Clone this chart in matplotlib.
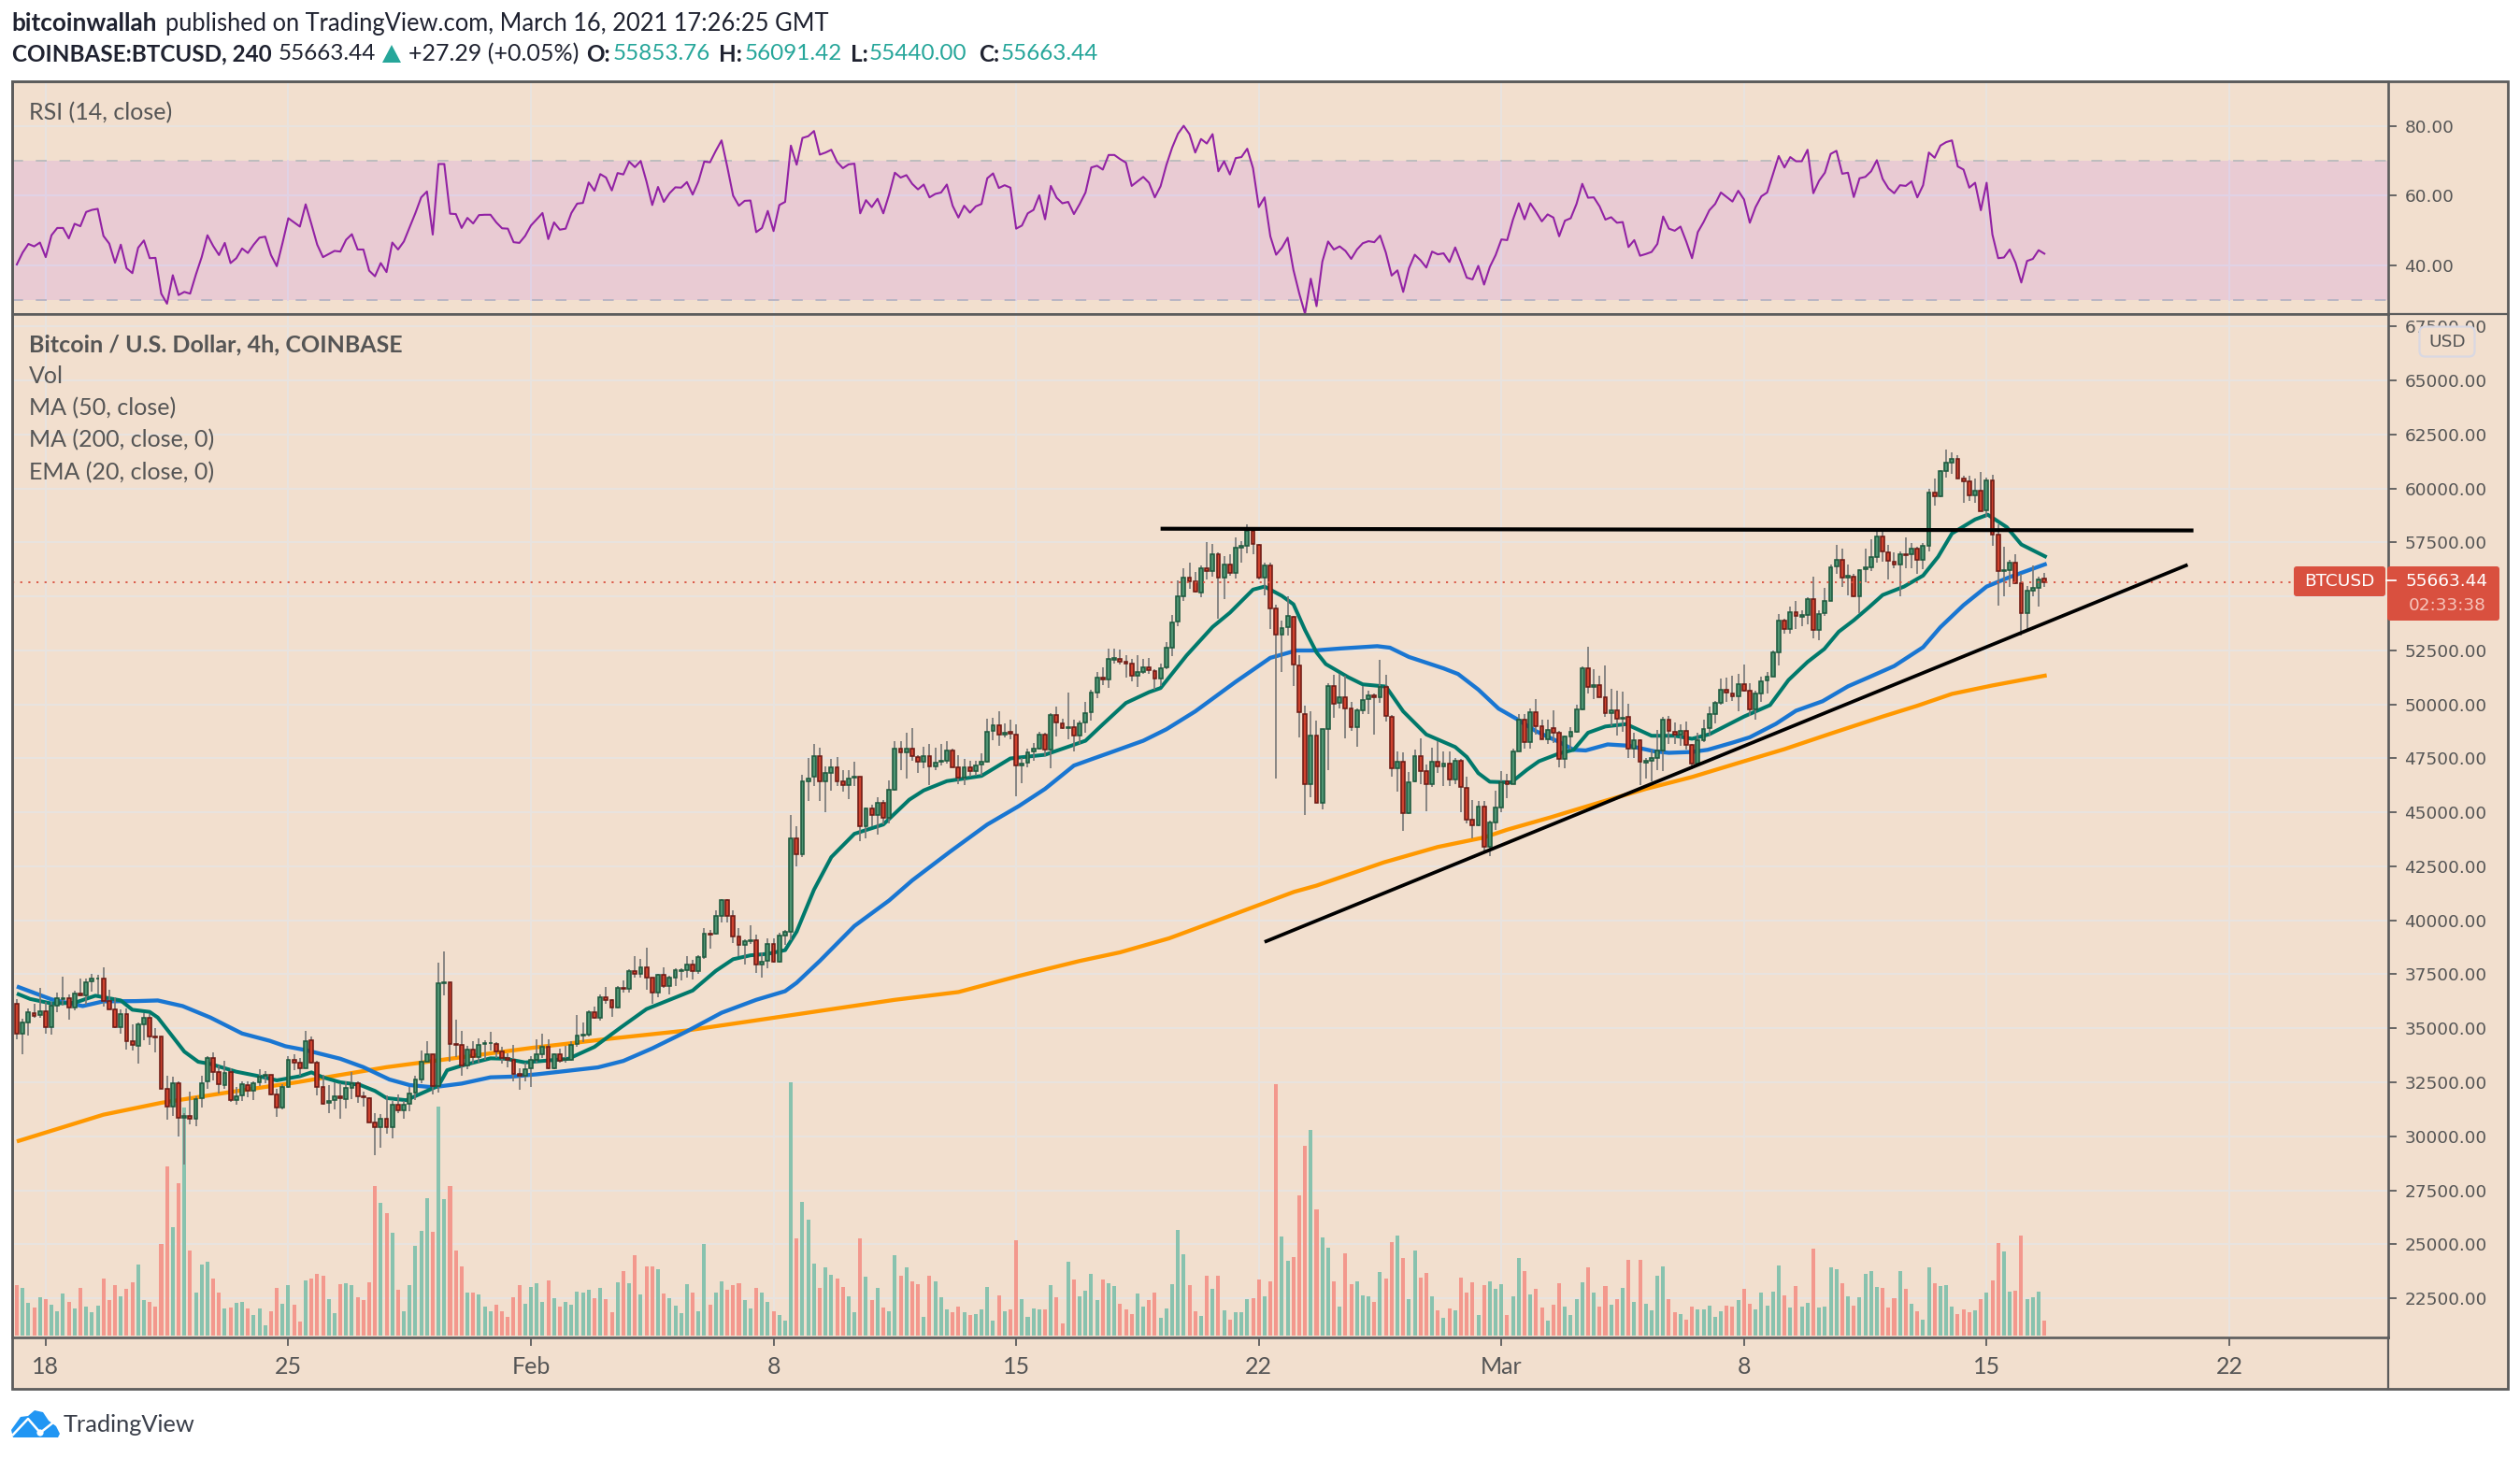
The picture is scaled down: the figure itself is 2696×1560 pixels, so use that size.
import matplotlib
matplotlib.use("Agg")
import matplotlib.pyplot as plt
from matplotlib.patches import Polygon, FancyBboxPatch, Circle, Rectangle

# ---------- data ----------
opens = [
36120,34770,35290,35700,35620,35790,35070,36060,36370,36390,
35980,36620,36510,37180,37290,37300,36260,35890,35060,35660,
34400,34170,35190,35490,34600,34600,32180,31360,32470,30850,
30960,30800,31770,32530,33630,32960,32380,32960,31670,31900,
32380,32110,32510,32790,32840,31950,31340,32270,33530,33390,
33170,34450,33390,32270,31530,31670,31840,31740,32220,32470,
31840,31780,30660,30430,30830,30430,31480,31190,31490,32010,
32640,33460,33810,32310,37100,37140,34280,34220,33270,34020,
33660,34280,34310,34280,33950,33610,33560,32900,32810,33130,
33560,33810,34150,33130,33810,33530,33550,34270,34680,34710,
35760,35500,36440,36290,35980,36870,36840,37640,37530,37840,
37330,36640,37470,36970,37360,37660,37700,37950,37660,38290,
39400,39400,40200,40920,40190,39250,38880,39050,39090,37970,
38120,38890,38100,39310,39480,43790,43070,46420,46640,47590,
46440,46840,47110,46460,46280,46620,46640,44370,45200,44860,
45430,44750,46060,47960,47790,47960,47570,47360,47610,47130,
47340,47390,47870,47070,46610,47100,46920,47210,47360,48760,
49040,48620,48720,48620,47170,47300,47820,47960,48610,47930,
49510,49140,48910,48970,48560,49170,49640,50550,51230,51150,
52080,52130,51980,51900,51310,51520,51720,51550,51190,51700,
52640,53850,55030,55890,55690,55200,56290,56190,56980,55890,
56470,56090,57260,57340,58020,57410,55890,56420,54450,53250,
53590,54070,51810,49570,46310,48580,45450,48880,50860,50060,
50340,49830,48970,49710,50230,50440,50320,50830,49440,47040,
47330,44970,46440,47590,46900,46310,47360,47140,47270,46520,
47410,46120,44650,44420,45290,43430,44520,45240,46420,46320,
47830,49300,48260,49630,48980,48400,48890,48690,47490,48520,
48720,49770,51670,50800,50890,50340,49610,49730,49320,49410,
47970,48330,47320,47400,47500,47860,49300,48720,48610,48760,
48120,47280,48330,48910,49570,50060,50660,50530,50390,50960,
50620,49770,50520,51110,51300,52400,53870,53510,54260,54070,
54130,54880,53440,54220,54810,56400,56720,55870,55940,55000,
56260,56370,56820,57800,57050,56620,56470,56970,56970,57200,
56690,57340,59800,59650,60810,61180,61360,60460,60320,59680,
59910,59000,60380,57860,56190,56230,56590,55610,54220,55260,
55380,55853.76]
closes = [
34770,35260,35730,35570,35790,35070,36030,36380,36400,35980,
36610,36510,37150,37310,37310,36260,35890,35060,35660,34420,
34210,35190,35490,34600,34580,32180,31360,32470,30850,30950,
30800,31740,32470,33630,32960,32410,32930,31670,31870,32400,
32110,32470,32760,32840,31950,31340,32270,33530,33400,33170,
34400,33390,32270,31520,31640,31840,31770,32220,32470,31840,
31800,30660,30430,30830,30430,31480,31190,31440,31980,32640,
33460,33810,32310,37080,37140,34280,34250,33270,34020,33650,
34220,34310,34330,33950,33610,33560,32900,32810,33120,33560,
33810,34150,33130,33810,33500,33590,34240,34670,34710,35760,
35500,36440,36290,35980,36870,36840,37630,37530,37840,37360,
36640,37470,36970,37330,37690,37690,37950,37660,38290,39370,
39350,40190,40920,40200,39250,38850,39020,39090,37970,38100,
38890,38100,39310,39470,43790,43070,46420,46590,47590,46440,
46810,47110,46460,46280,46590,46650,44370,45200,44860,45430,
44750,46030,47960,47790,47960,47600,47360,47610,47130,47310,
47370,47870,47100,46610,47100,46920,47180,47330,48750,49040,
48610,48710,48630,47170,47270,47790,47960,48610,47900,49510,
49170,48910,48970,48560,49140,49610,50550,51250,51150,52100,
52140,51980,51900,51310,51510,51720,51580,51190,51680,52630,
53820,55000,55890,55720,55230,56290,56180,56980,55890,56470,
56090,57240,57340,58020,57440,55890,56440,54450,53250,53560,
54100,51840,49630,46310,48580,45450,48880,50860,50040,50340,
49830,48970,49710,50220,50430,50320,50830,49450,47040,47330,
44970,46410,47590,46920,46310,47360,47140,47260,46520,47410,
46180,44680,44420,45290,43430,44520,45240,46390,46320,47830,
49300,48260,49630,48980,48400,48840,48690,47490,48520,48720,
49770,51670,50800,50890,50340,49600,49730,49340,49380,47970,
48330,47330,47400,47500,47860,49300,48760,48610,48760,48120,
47280,48330,48880,49540,50060,50660,50550,50390,50960,50630,
49770,50490,51090,51300,52400,53870,53510,54260,54090,54130,
54880,53440,54190,54810,56370,56720,55870,55960,55000,56240,
56370,56810,57800,57100,56650,56470,56940,56920,57200,56690,
57330,59800,59640,60810,61180,61360,60460,60320,59680,59910,
58960,60380,57860,56190,56230,56590,55610,54220,55260,55380,
55810,55663.44]
highs = [
36365,35430,35930,36150,36870,36220,36220,36640,37410,36580,
36750,37300,37300,37530,37470,37840,36800,36440,35860,35930,
35170,35290,35690,35650,35000,34640,32820,32740,32560,31050,
32050,31870,32820,33710,33880,33270,33480,33130,32300,32530,
32530,32530,33100,33020,32840,32200,32410,33710,33780,33630,
34860,34600,33490,32840,32350,32480,32440,32560,32960,32560,
32050,31810,31050,31020,31910,31620,31950,31620,32270,32800,
33990,34420,33810,38060,38560,37140,35390,34900,34170,34420,
34540,34450,34830,34340,34140,33850,34210,33130,33420,33730,
34470,34740,34470,33850,34040,34170,34400,35630,35260,35830,
36000,36580,36900,36360,36970,37230,37730,38350,38230,38740,
37370,37510,37840,37440,37800,37800,38350,38160,38380,39640,
39550,40460,41000,41000,40460,39640,39140,39770,39340,38500,
39160,39160,39410,39550,44900,44340,46740,47530,48170,47990,
47140,47490,47560,46950,46950,47360,46640,45230,45340,45690,
45590,46490,48320,48290,48680,48890,47670,48030,48180,47990,
48180,48320,47960,47640,47460,47380,47380,47740,49320,49370,
49680,49110,49280,49080,47530,47960,48200,48750,48700,49610,
49900,49320,50550,49280,49250,50140,50700,51500,51700,52590,
52590,52530,52300,52130,52270,52130,52170,51620,51910,52870,
54140,55750,56320,56580,56150,56440,57520,57440,57040,56870,
56940,57730,57560,58350,58200,57440,56580,56580,54600,53880,
55030,54110,52270,49940,49680,49250,48880,50980,51370,51410,
51340,50110,49800,50860,50620,50520,52080,51370,49510,47810,
47760,46880,47890,48430,47240,47990,48320,47810,47810,47500,
47460,46670,45590,45530,45530,44600,45990,46900,46780,47970,
49550,49550,49810,50240,49310,49310,49730,48760,48550,48950,
49990,51780,52670,51640,51320,51800,50730,50630,50590,50040,
48690,48380,47510,47890,48840,49410,49450,49150,49090,49200,
48150,48690,49300,49910,50160,51210,51240,51340,51420,51850,
50990,50630,51280,51490,52500,54190,53990,54520,54810,54360,
54960,55900,54380,55390,56470,57400,57230,56470,56040,56270,
57200,57630,58140,58090,57380,57050,57080,57750,57460,57310,
57490,59990,60450,60840,61820,61680,61560,60590,60590,60450,
60780,60520,60620,58350,57310,56690,56950,56040,55490,56430,
55900,56091.42]
lows = [
34500,33810,34680,35500,35500,34740,34710,35750,36030,35400,
35830,36470,36090,36720,36580,36010,35890,35000,34740,34000,
33960,33380,34450,34210,33880,32180,30790,30950,30000,28700,
30540,30460,31340,32200,32590,31980,32200,31580,31440,31620,
31810,31670,32340,32440,31900,30900,31260,32240,33060,32820,
33130,33350,31910,31480,31090,31260,30830,31290,31700,31550,
31380,30620,29140,29470,30140,29900,31090,30830,31160,31670,
32460,33460,31950,32020,36510,33460,33660,32810,33100,33350,
33420,33560,33990,33630,33370,33200,32560,32170,32530,32300,
33420,33630,33100,33100,33420,33420,33490,34140,34350,34640,
35430,35360,36150,35520,35930,36650,36650,37340,37330,36800,
36150,36440,36870,36580,36980,37230,37370,37250,37510,38230,
38710,39340,39910,39910,38950,38330,37950,38900,37570,37350,
37760,38050,38050,38880,39080,42500,42930,45520,46240,45540,
45000,46020,46230,45950,45630,46230,43650,43820,44340,43960,
44440,44510,46000,46950,46590,47410,46810,47050,46260,46950,
47170,47270,47100,46290,46260,46660,46690,46690,47310,48360,
48100,48460,48390,45730,46340,47100,47410,47890,47600,47030,
48530,48850,48390,47820,48170,48710,49250,50300,50900,50750,
51910,51870,51260,51050,50830,51410,51410,50690,50860,51620,
52240,53640,54790,55360,55170,54960,55790,55930,53970,54900,
55980,55820,56580,57010,56940,55790,55070,53490,46590,51510,
53200,50860,48480,44870,45690,45450,45160,46980,49400,49800,
48450,48790,48060,49540,49540,48610,50090,49220,46670,45950,
44140,44910,46380,46310,45040,46160,46810,46240,46240,46310,
45010,44510,43790,44350,43160,42970,44170,45010,45650,46320,
47830,47970,47970,48620,48380,48190,48230,47110,47040,47900,
48690,49730,50490,50270,50340,49410,48980,48550,48720,47540,
47510,46250,46590,46420,46970,46900,48190,48150,48090,47900,
47000,47140,48260,48580,49120,49990,50130,50160,49670,50590,
49480,49300,50130,50520,51280,51820,53270,53270,53510,53630,
53730,53080,52980,54080,54800,56040,55460,55070,54960,54230,
55680,56180,56590,56620,55810,56330,55030,56330,56300,56040,
56260,57080,59190,59620,60520,60690,60460,59360,59440,59360,
58960,58670,57340,54570,54990,55460,55580,53180,53510,55030,
54550,55440.00]
volume = [
54,51,35,30,41,39,33,26,45,36,
29,51,31,25,32,61,38,54,42,50,
57,76,38,36,31,98,181,116,163,244,
91,46,76,79,61,46,29,30,35,36,
29,22,29,11,26,51,34,54,33,15,
59,61,66,64,39,24,55,56,54,41,
38,57,160,142,131,110,49,26,54,96,
112,147,111,245,146,160,91,74,46,46,
44,31,26,33,26,20,41,54,34,52,
56,36,59,40,31,36,33,47,46,49,
40,51,39,25,57,69,56,86,44,74,
74,71,45,40,32,24,55,46,26,98,
33,46,58,49,54,56,38,29,51,46,
36,26,22,16,271,104,143,124,77,51,
73,65,61,52,42,25,104,63,38,51,
30,26,86,64,73,58,55,20,64,58,
41,28,25,31,25,22,23,28,52,16,
43,26,28,102,39,20,29,28,28,54,
41,13,79,60,42,48,66,38,60,56,
53,34,28,23,45,31,38,46,19,29,
55,113,87,54,26,21,64,50,64,27,
17,25,25,39,40,60,42,58,269,106,
80,84,150,203,220,135,105,94,58,31,
88,55,58,43,42,36,68,61,100,107,
83,39,91,62,67,42,27,19,29,27,
62,46,57,22,54,58,50,55,22,42,
83,69,44,50,30,16,33,56,31,22,
39,57,73,46,31,53,33,39,51,81,
36,81,34,27,64,74,39,25,23,17,
31,28,28,32,20,26,32,31,38,50,
34,28,46,32,47,75,43,30,53,31,
35,93,30,31,73,71,56,42,32,41,
66,69,52,51,30,40,69,50,34,26,
17,73,56,53,54,31,23,28,25,27,
39,46,59,99,90,47,48,107,39,41,
47,16]
rsi = [
40.2,43.6,46.1,45.4,46.5,42.3,48.6,50.7,50.7,47.7,
51.9,51.2,55.3,55.9,56.2,48.4,46.2,40.7,45.9,39.1,
37.7,45.0,47.1,42.0,42.1,31.8,28.9,37.1,31.4,32.3,
31.8,37.3,42.3,48.6,45.5,42.9,46.4,40.6,42.0,44.8,
43.5,45.9,47.9,48.2,42.9,39.7,46.4,53.5,52.3,51.1,
57.5,51.8,45.9,42.3,43.2,44.1,43.9,47.3,48.9,44.5,
44.5,38.4,36.8,40.6,38.0,46.5,44.5,46.8,50.9,55.0,
59.5,61.2,48.8,69.1,69.1,54.8,54.7,50.7,53.6,52.0,
54.4,54.5,54.5,52.3,50.6,50.5,46.6,46.4,48.4,51.4,
53.2,55.0,47.5,52.3,50.2,50.5,55.0,57.7,57.9,63.8,
61.4,66.2,65.2,61.5,66.5,66.1,69.8,68.2,70.0,64.1,
57.3,62.5,58.2,60.7,62.4,62.3,63.9,60.3,64.1,69.8,
69.6,72.9,75.9,68.2,60.0,57.1,58.5,58.6,49.5,50.7,
55.6,49.8,57.3,58.2,74.4,68.9,76.6,77.1,78.6,71.8,
72.4,73.2,69.7,67.9,69.0,69.2,54.9,58.7,56.7,59.1,
54.9,60.3,66.6,65.2,65.9,63.4,61.8,63.2,59.5,60.5,
60.9,63.2,57.1,53.7,57.1,55.1,56.9,57.6,65.0,66.4,
62.2,63.0,62.3,50.5,51.4,54.9,55.9,60.1,53.2,62.8,
59.4,57.8,58.2,54.7,57.6,60.9,68.1,68.6,67.5,71.7,
71.7,70.5,69.5,62.8,64.1,65.4,63.7,59.5,62.7,68.8,
73.8,77.8,80.1,77.7,72.4,76.3,75.0,77.7,67.0,69.9,
66.1,70.8,71.1,73.5,67.9,56.7,59.5,48.3,43.0,45.0,
47.9,38.6,31.9,26.0,36.1,28.2,41.0,46.8,44.5,45.4,
44.1,41.8,44.5,46.3,46.9,46.6,48.5,43.6,37.0,38.5,
32.3,39.1,43.0,41.4,39.3,43.9,43.1,43.4,40.9,45.1,
40.9,36.4,35.9,39.8,34.4,39.5,42.9,47.4,47.2,53.1,
57.8,53.2,57.8,55.3,52.6,54.6,53.7,48.3,52.8,53.5,
57.6,63.4,59.4,59.5,56.9,53.1,53.8,52.2,52.4,45.2,
47.2,42.7,43.2,43.8,46.1,54.0,50.5,49.9,51.1,46.8,
42.0,49.5,52.4,55.8,57.6,60.9,59.6,58.3,61.4,58.9,
52.2,56.7,59.8,60.9,66.1,71.4,68.1,71.1,69.9,69.9,
73.2,60.7,64.3,66.6,72.0,72.9,66.3,66.6,59.6,65.0,
65.4,67.0,70.2,64.8,62.1,60.7,63.0,62.8,64.1,59.5,
63.0,72.4,70.9,74.4,75.4,75.9,68.4,67.5,62.3,63.7,
55.8,63.7,48.8,42.0,42.2,44.5,40.7,35.0,41.2,41.8,
44.3,43.3]

ma200_bar = [0,15,25,37,48,64,75,89,102,116,127,152,163,173.5,184,191,199.5,208.9,221.1,225,236.7,246,254,258,265.5,274,282,290,298.5,306,314,323,329,335,342,351.4]
ma200_val = [29760,31000,31550,32050,32480,33200,33590,34090,34500,34900,35330,36320,36680,37430,38120,38520,39170,40100,41320,41610,42690,43400,43840,44200,44770,45460,46090,46640,47330,47930,48650,49440,49940,50490,50880,51350]

ma50_bar = [0,6,8,11.4,15,20.6,24.4,28.7,33.5,39,43.8,46.5,50,56,60,64.5,68,72,77,82,85.5,90,94,100.6,105,110,116,122,128,133,135,139,145,151,155,161.6,168,173.5,178,183,186,190,195,199,204,211,217,221.5,224.7,229,235.5,237.7,241,247,249.5,253,256.5,259.7,263,267,269.5,271.6,275.4,279,283.5,286,290,292.7,297,300,304.5,308,312.6,317,320.7,325,330,333,337,341,345,351.4]
ma50_val = [36940,36340,36220,36030,36250,36260,36290,36030,35500,34760,34420,34170,33990,33590,33200,32630,32370,32270,32440,32730,32760,32870,32990,33190,33490,34070,34860,35720,36320,36720,37110,38120,39740,40920,41850,43190,44440,45300,46090,47170,47460,47840,48320,48850,49680,51050,52160,52500,52500,52590,52700,52630,52200,51670,51410,50690,49810,49320,48760,48260,47900,47870,48150,48090,47830,47760,47800,47900,48230,48480,49100,49710,50150,50840,51270,51780,52650,53580,54600,55460,55900,56520]

ema20_bar = [0,2.3,6,10,13.6,18,20,23,24.4,26.5,29,31.4,33.5,38,41.6,45,49,51,53,56,59.4,62,64,67.4,71,73,74.5,77,82,84.6,88,95.5,100,104.5,109,117,121,124,127,130,133,135,138,141,145,150,154.5,157,161,167,172,178,185,188,192,196,198,202.5,207,210,214,216,219,221,223,225,226.6,230.5,233,237,240,244,249,251,253,255,258.7,261.4,263.5,267,269.5,272,275,278.6,283,287,290,293,299,303.5,306.7,310,312.9,315.4,318,320.7,323,326.7,330,332.6,335,339,341.2,344.5,347,351.4]
ema20_val = [36610,36360,36150,36180,36510,36290,35860,35760,35500,34780,33920,33450,33350,32990,32800,32590,32780,32960,32730,32500,32380,32100,31770,31670,32100,32340,33060,33270,33610,33590,33420,33590,34140,35030,35890,36750,37660,38200,38380,38450,38620,39480,41420,42930,44010,44440,45590,46020,46450,46690,47500,47670,48320,49080,50070,50570,50760,52270,53590,54250,55320,55460,55030,54640,53450,52410,51870,51260,50930,50830,49680,48610,48030,47570,46820,46420,46390,46970,47370,47730,47900,48690,48980,49090,48550,48550,48410,48620,49440,49970,51130,51970,52570,53370,53900,54520,55070,55460,55970,56840,57920,58570,58790,58210,57410,56820]

resist_bar = [198, 376.8]
resist_val = [58140, 58060]
support_bar = [216, 375.8]
support_val = [39000, 56470]

last_price = 55663.44
price_ticks = [22500+2500*k for k in range(19)]
rsi_ticks = [40, 60, 80]
week_ticks = [5, 47, 89, 131, 173, 215, 257, 299, 341, 383]
week_labels = ["18", "25", "Feb", "8", "15", "22", "Mar", "8", "15", "22"]

assert len(opens)==len(closes)==len(highs)==len(lows)==len(volume)==len(rsi)==352
assert len(ma200_bar)==len(ma200_val) and len(ma50_bar)==len(ma50_val) and len(ema20_bar)==len(ema20_val)

# ---------- style ----------
W, H = 2696, 1560
BG = "#f2dfce"; GRID = "#e8e4e0"; BORDER = "#5c5c5c"; TXT = "#555555"; TAG = "#d9503f"
UI = "Lato"; NUM = "DejaVu Sans"
fig = plt.figure(figsize=(W/100, H/100), dpi=100, facecolor="white")

def pane(x0, y0, x1, y1, **kw):
    ax = fig.add_axes([x0/W, 1-y1/H, (x1-x0)/W, (y1-y0)/H], **kw)
    return ax

LEFT, AXR, RIGHT = 12.6, 2555, 2683
TOP, DIV, BOT, OUT = 87, 336, 1431, 1486
X0 = (LEFT-18)/6.18; X1 = (AXR-18)/6.18
bars = list(range(len(opens)))

# background of the price scale and time scale, behind every pane
bgax = fig.add_axes([0, 0, 1, 1], facecolor="none")
bgax.set_xlim(0, W); bgax.set_ylim(H, 0); bgax.axis("off"); bgax.set_zorder(-1)
bgax.add_patch(Rectangle((LEFT, TOP), RIGHT-LEFT, OUT-TOP, fc=BG, ec="none"))

# RSI pane
ar = pane(LEFT, TOP, AXR, DIV, facecolor=BG)
ar.set_xlim(X0, X1); ar.set_ylim(25.93, 92.9)
ar.axhspan(30, 70, color="#e9cbd3", lw=0, zorder=1)
for v in rsi_ticks:
    ar.axhline(v, color=GRID, lw=1.4, zorder=0.5)
    if v < 70:
        ar.axhline(v, color="#e0d3e6", lw=1.4, zorder=1.2)
for t in week_ticks:
    ar.axvline(t, color=GRID, lw=1.4, zorder=0.5)
    ar.plot([t, t], [30, 70], color="#e0d3e6", lw=1.4, zorder=1.2)
ar.axhline(70, color="#bdbdbd", lw=1.4, ls=(0, (6, 7)), zorder=2)
ar.axhline(30, color="#b9b5c4", lw=1.4, ls=(0, (6, 7)), zorder=2)
ar.plot(bars, rsi, color="#9222a4", lw=1.5, zorder=3)
ar.set_xticks([]); ar.yaxis.tick_right()
ar.set_yticks(rsi_ticks); ar.set_yticklabels([f"{v:.2f}" for v in rsi_ticks])

# main pane
am = pane(LEFT, DIV, AXR, BOT, facecolor=BG)
am.set_xlim(X0, X1); am.set_ylim(20682, 68084)
for v in price_ticks:
    am.axhline(v, color=GRID, lw=1.4, zorder=0.5)
for t in week_ticks:
    am.axvline(t, color=GRID, lw=1.4, zorder=0.5)

# volume on a hidden overlay axis, one unit = one pixel
av = pane(LEFT, DIV, AXR, BOT, facecolor="none")
av.set_xlim(X0, X1); av.set_ylim(-2, 1093); av.axis("off")
vcol = ["#88c2ae" if c >= o else "#f3988d" for o, c in zip(opens, closes)]
av.bar(bars, volume, width=0.65, color=vcol, lw=0, zorder=1)

# price overlay
ap = pane(LEFT, DIV, AXR, BOT, facecolor="none")
ap.set_xlim(X0, X1); ap.set_ylim(20682, 68084); ap.axis("off")
ap.plot(ma200_bar, ma200_val, color="#ff9800", lw=3.1, zorder=2, solid_capstyle="butt")
ap.plot(ma50_bar, ma50_val, color="#1976d2", lw=3.1, zorder=2.1, solid_capstyle="butt")
ap.plot(ema20_bar, ema20_val, color="#00796b", lw=2.9, zorder=2.2, solid_capstyle="butt")
ap.vlines(bars, lows, highs, color="#767676", lw=1.2, zorder=3)
for up, fc, ec in [(True, "#4f9472", "#1e5a3f"), (False, "#d0432f", "#6e1a14")]:
    idx = [i for i in bars if (closes[i] >= opens[i]) == up]
    ap.bar(idx, [abs(closes[i]-opens[i]) for i in idx],
           bottom=[min(opens[i], closes[i]) for i in idx],
           width=0.62, color=fc, edgecolor=ec, linewidth=1.15, zorder=4)
ap.plot([X0, (2454-18)/6.18], [last_price]*2, color=TAG, lw=1.3, ls=(0, (1.2, 3.6)), zorder=5)
ap.plot(resist_bar, resist_val, color="black", lw=3.0, zorder=6, solid_capstyle="butt")
ap.plot(support_bar, support_val, color="black", lw=2.7, zorder=6, solid_capstyle="butt")

am.yaxis.tick_right()
am.set_yticks(price_ticks); am.set_yticklabels([f"{v:.2f}" for v in price_ticks])
am.set_xticks(week_ticks); am.set_xticklabels(week_labels)
for ax in (ar, am):
    ax.tick_params(axis="y", length=6.5, width=1.3, color=BORDER, labelcolor=TXT,
                   labelsize=13.3, pad=6)
    for l in ax.get_yticklabels():
        l.set_family(NUM)
    for s in ax.spines.values():
        s.set_color(BORDER); s.set_linewidth(1.9)
am.tick_params(axis="x", length=6.5, width=1.3, color=BORDER, labelcolor=TXT, labelsize=18, pad=8)
for l in am.get_xticklabels():
    l.set_family(UI)

# ---------- pixel overlay for frame, header, tags and logo ----------
ov = fig.add_axes([0, 0, 1, 1], facecolor="none")
ov.set_xlim(0, W); ov.set_ylim(H, 0); ov.axis("off")
ov.add_patch(Rectangle((LEFT, TOP), RIGHT-LEFT, OUT-TOP, fc="none", ec=BORDER, lw=2.0, zorder=1))
ov.plot([AXR, AXR], [BOT, OUT], color=BORDER, lw=1.6, zorder=1)
ov.plot([AXR, RIGHT], [DIV, DIV], color=BORDER, lw=1.6, zorder=1)
ov.set_zorder(5)

def T(x, y, s, size=18, color=TXT, weight="normal", family=UI, ha="left"):
    ov.text(x, y, s, fontsize=size, color=color, weight=weight, family=family,
            ha=ha, va="center", zorder=6)

INK = "#1f2230"; TEAL = "#26a69a"
T(12.6, 25, "bitcoinwallah", 18.8, INK, "bold")
T(177, 25, "published on TradingView.com, March 16, 2021 17:26:25 GMT", 18.4, INK)
T(12.6, 58, "COINBASE:BTCUSD, 240", 17.5, INK, "bold")
T(298, 58, "55663.44", 17.5, INK)
ov.add_patch(Polygon([[409, 67], [429, 67], [419, 48]], fc=TEAL, ec="none", zorder=6))
T(437, 58, "+27.29 (+0.05%)", 18, INK)
for x1, lab, x2, val in [(627, "O:", 656, "55853.76"), (769, "H:", 797, "56091.42"),
                         (910, "L:", 930, "55440.00"), (1047, "C:", 1071, "55663.44")]:
    T(x1, 58, lab, 17.5, INK, "bold")
    T(x2, 58, val, 17.5, TEAL)

T(31, 121, "RSI (14, close)", 18)
T(31, 369, "Bitcoin / U.S. Dollar, 4h, COINBASE", 18, TXT, "bold")
T(31, 403, "Vol", 18)
T(31, 437, "MA (50, close)", 18)
T(31, 471, "MA (200, close, 0)", 18)
T(31, 506, "EMA (20, close, 0)", 18)

# price tags
ov.add_patch(FancyBboxPatch((2456, 608), 94, 28, boxstyle="round,pad=2,rounding_size=3", fc=TAG, ec="none", zorder=6))
ov.add_patch(FancyBboxPatch((2556, 608), 116, 54, boxstyle="round,pad=2,rounding_size=3", fc=TAG, ec="none", zorder=6))
ov.plot([2553, 2563], [621, 621], color="white", lw=1.3, zorder=7)
T(2503, 622, "BTCUSD", 13.3, "white", family=NUM, ha="center")
T(2618, 622, "55663.44", 13.3, "white", family=NUM, ha="center")
T(2618, 648, "02:33:38", 13.3, "#f6c4bb", family=NUM, ha="center")

# USD box
ov.add_patch(FancyBboxPatch((2591, 352), 54, 27, boxstyle="round,pad=2.5,rounding_size=6", fc=BG, ec="#d9d8e2", lw=1.6, zorder=6))
T(2618, 366, "USD", 13.3, TXT, family=NUM, ha="center")

# TradingView mark
BLUE = "#2196f3"
ov.add_patch(Polygon([[14, 1538], [12, 1530], [22, 1516], [30, 1515], [37, 1509], [46, 1511],
                      [52, 1520], [60, 1526], [64, 1534], [62, 1538]], fc=BLUE, ec="none", zorder=6))
ov.plot([14, 30, 43, 62], [1535, 1518, 1533, 1518], color="white", lw=1.8, zorder=7)
ov.add_patch(Circle((43, 1533), 3.6, fc="white", ec="none", zorder=7))
T(68, 1524, "TradingView", 18.3, "#3a3f4a")

fig.savefig("out.png", dpi=100, facecolor="white")
